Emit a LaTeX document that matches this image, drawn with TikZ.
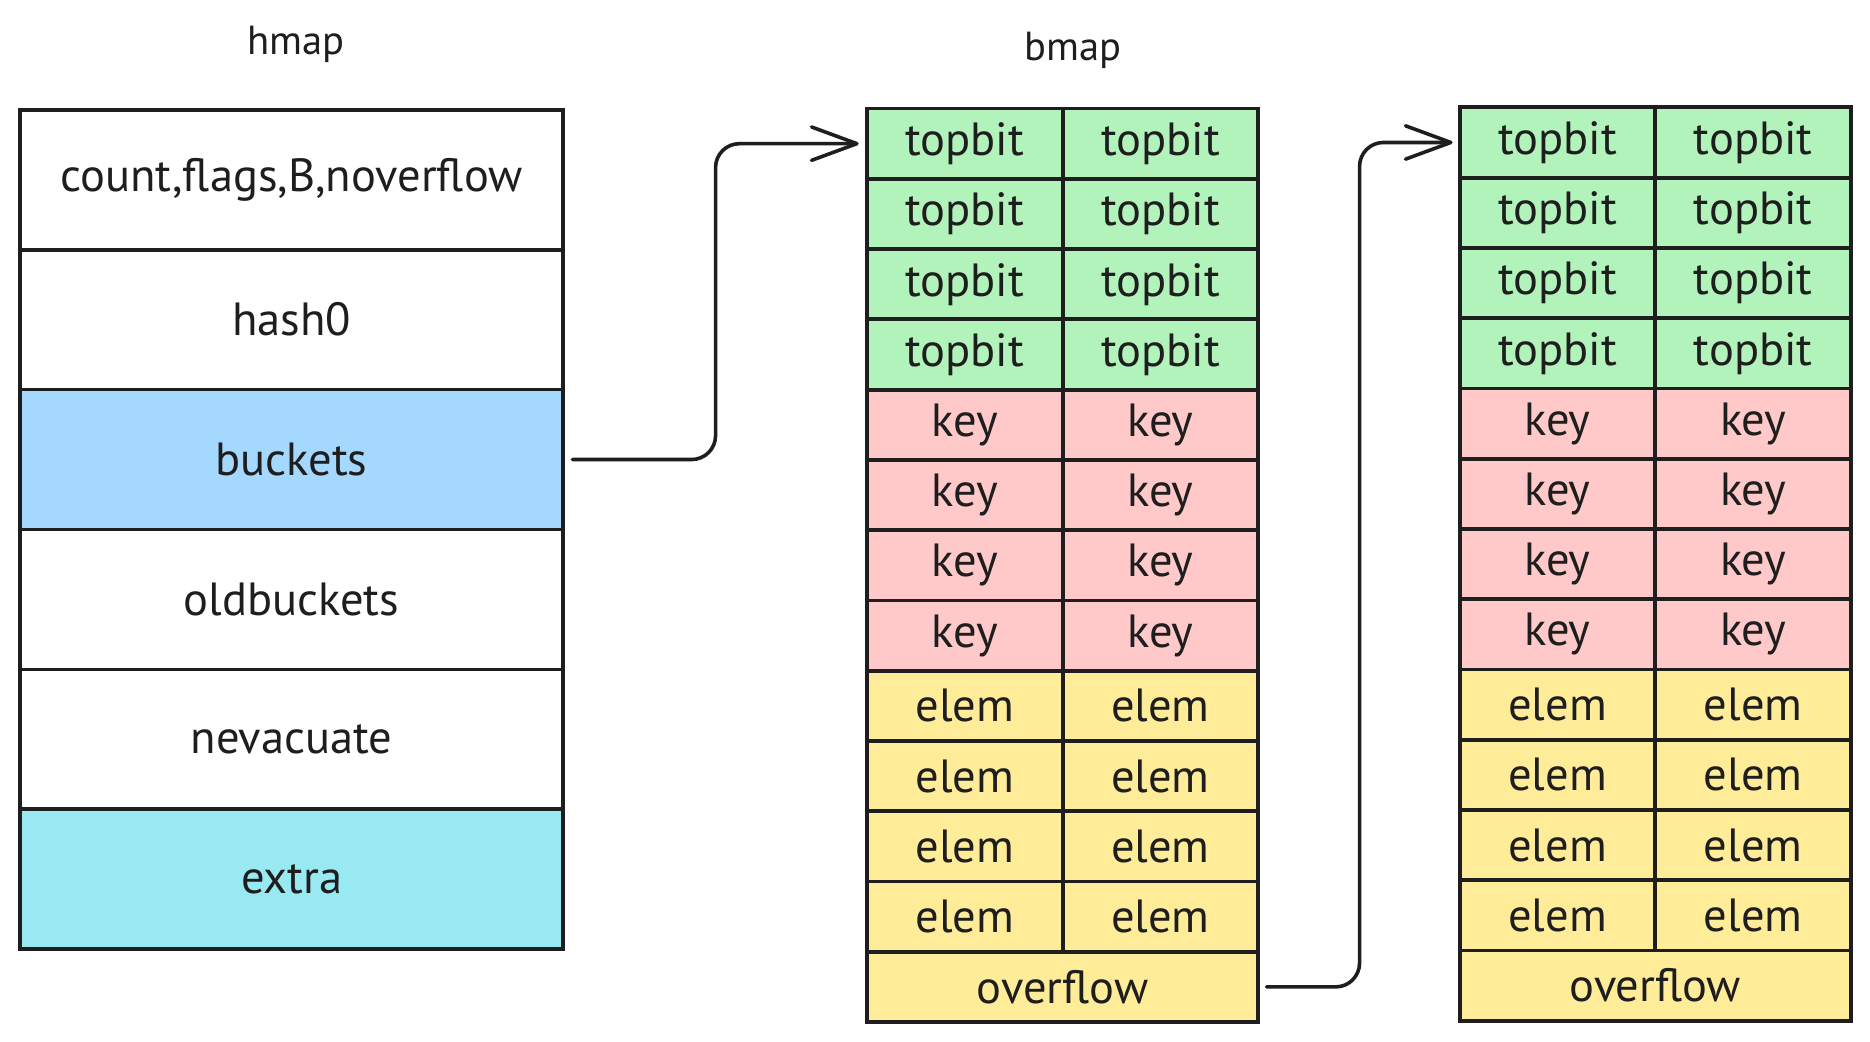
\documentclass[tikz,border=0pt]{standalone}
\usepackage{fontspec}
\setmainfont{PT Sans}
\usetikzlibrary{arrows.meta}
\definecolor{ink}{HTML}{1E1E1E}
\definecolor{cgreen}{HTML}{B2F2BB}
\definecolor{cred}{HTML}{FFC9C9}
\definecolor{cyellow}{HTML}{FFEC99}
\definecolor{cblue}{HTML}{A5D8FF}
\definecolor{ccyan}{HTML}{99E9F2}
\tikzset{
  txt/.style={font=\fontsize{19.5}{23}\selectfont, text=ink},
  lbl/.style={font=\fontsize{17}{20}\selectfont, text=ink},
  hcell/.style={txt, draw=ink, line width=1.6pt, minimum width=227.5pt, minimum height=58.67pt, inner sep=0pt, outer sep=0pt},
  bcell/.style={txt, draw=ink, line width=1.6pt, minimum width=82pt, minimum height=29.46pt, inner sep=0pt, outer sep=0pt},
  ocell/.style={txt, draw=ink, line width=1.6pt, minimum width=164pt, minimum height=29.46pt, inner sep=0pt, outer sep=0pt, fill=cyellow},
  conn/.style={draw=ink, line width=1.5pt, line cap=round, rounded corners=10pt,
    -{Straight Barb[length=19pt, width=14pt, line width=1.5pt, round]}},
}
\begin{document}
\begin{tikzpicture}[x=0.5pt, y=-0.5pt]
\useasboundingbox (0,0) rectangle (1568,873);
\fill[white] (0,0) rectangle (1568,873);

% labels
\node[lbl] (lh) at (248,37) {hmap};
\node[lbl] (lb) at (900,42) {bmap};

% hmap
\node[hcell, fill=white]   (h1) at (244.5,150.7) {count,flags,B,noverflow};
\node[hcell, fill=white]   (h2) at (244.5,268.0) {hash0};
\node[hcell, fill=cblue]   (h3) at (244.5,385.3) {buckets};
\node[hcell, fill=white]   (h4) at (244.5,502.7) {oldbuckets};
\node[hcell, fill=white]   (h5) at (244.5,620.0) {nevacuate};
\node[hcell, fill=ccyan]   (h6) at (244.5,737.3) {extra};

% bmap 1 and 2
\foreach \p/\xa/\xb/\dy in {a/809/973/0, b/1306/1470/-1}{
  \foreach \r/\col/\t in {1/cgreen/topbit,2/cgreen/topbit,3/cgreen/topbit,4/cgreen/topbit,
                          5/cred/key,6/cred/key,7/cred/key,8/cred/key,
                          9/cyellow/elem,10/cyellow/elem,11/cyellow/elem,12/cyellow/elem}{
    \pgfmathsetmacro{\yy}{91+\dy+58.92*(\r-0.5)}
    \node[bcell, fill=\col] (\p\r l) at (\xa,\yy) {\t};
    \node[bcell, fill=\col] (\p\r r) at (\xb,\yy) {\t};
  }
  \pgfmathsetmacro{\yo}{91+\dy+58.92*12.5}
  \pgfmathsetmacro{\xo}{(\xa+\xb)/2}
  \node[ocell] (\p o) at (\xo,\yo) {overflow};
}

% connectors
\coordinate (k1) at (600,0);
\coordinate (k2) at (1140,0);
\draw[conn, shorten <=4pt, shorten >=3.5pt]
  (h3.east) -- (h3.east -| k1) -- (k1 |- a1l.west) -- (a1l.west);
\draw[conn, shorten <=3.5pt, shorten >=3pt]
  (ao.east) -- (ao.east -| k2) -- (k2 |- b1l.west) -- (b1l.west);
\end{tikzpicture}
\end{document}
